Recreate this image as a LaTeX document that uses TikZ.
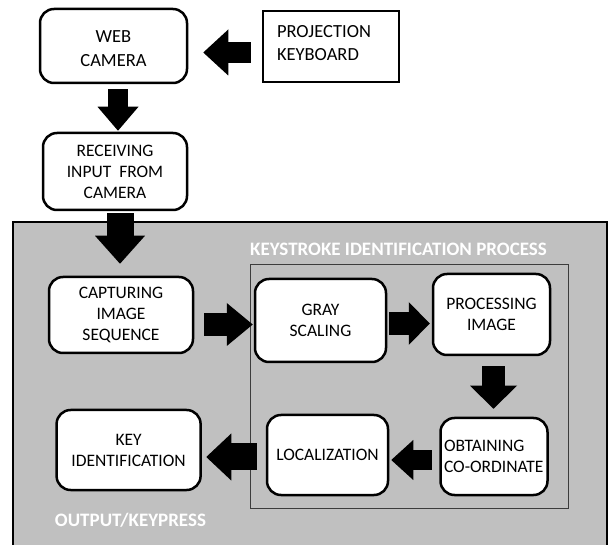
\documentclass[tikz,border=0pt]{standalone}
\usepackage{fontspec}
\setmainfont{Carlito}
\usetikzlibrary{arrows.meta}
\definecolor{panel}{RGB}{192,192,192}
\definecolor{framegray}{RGB}{60,60,60}
\begin{document}
\begin{tikzpicture}[x=1pt,y=-1pt,
  stepbox/.style={draw=black, line width=2.5pt, rounded corners=14pt, fill=white, align=center, inner sep=0pt, font=\fontsize{17.5}{21}\selectfont},
  topbox/.style={stepbox, font=\fontsize{18.5}{24}\selectfont},
  blk/.style n args={3}{line width=#1, -{Triangle[width=#2, length=#3, line width=0pt]}, draw=black},
  hdr/.style={text=white, font=\bfseries\fontsize{19}{22}\selectfont, inner sep=0pt}
]
\useasboundingbox (0,0) rectangle (611,545);
\node[draw=black, line width=2pt, fill=panel, minimum width=594pt, minimum height=326pt, inner sep=0pt] (outer) at (310,385) {};
\node[draw=framegray, line width=0.8pt, minimum width=318pt, minimum height=244pt, inner sep=0pt] (frame) at (409,386) {};

\node[topbox, minimum width=147pt, minimum height=74pt, text height=44pt, text depth=2pt] (cam) at (113.5,46) {WEB\\CAMERA};
\node[draw=black, line width=2.5pt, fill=white, minimum width=136pt, minimum height=71pt, align=left, text width=108pt, text depth=30pt, inner sep=0pt, font=\fontsize{18.5}{23}\selectfont] (kb) at (331,46.5) {PROJECTION\\KEYBOARD};
\node[stepbox, minimum width=144pt, minimum height=77pt] (recv) at (115,171.5) {RECEIVING\\INPUT~~FROM\\CAMERA};
\node[stepbox, minimum width=144pt, minimum height=76pt] (cap) at (121,315) {CAPTURING\\IMAGE\\SEQUENCE};
\node[stepbox, minimum width=131pt, minimum height=83pt] (gray) at (320.5,320.5) {GRAY\\SCALING};
\node[stepbox, minimum width=117pt, minimum height=81pt] (proc) at (491.5,314.5) {PROCESSING\\IMAGE};
\node[stepbox, minimum width=107pt, minimum height=77pt, align=left, text width=100pt] (obt) at (494,456.5) {OBTAINING\\CO-ORDINATE};
\node[stepbox, minimum width=121pt, minimum height=80pt] (loc) at (327.5,455) {LOCALIZATION};
\node[stepbox, minimum width=144pt, minimum height=80pt] (key) at (128.6,450) {KEY\\IDENTIFICATION};

\node[hdr] (ttl) at (398.5,249) {KEYSTROKE IDENTIFICATION PROCESS};
\node[hdr] (outlbl) at (130.5,520) {OUTPUT/KEYPRESS};

\draw[blk={21pt}{46pt}{25pt}, shorten <=11pt, shorten >=15pt] ([yshift=-6pt]kb.west) -- ([yshift=-6pt]kb.west -| cam.east);
\draw[blk={20pt}{41pt}{24pt}, shorten <=5pt, shorten >=1pt] ([xshift=4.5pt]cam.south) -- ([xshift=4.5pt]cam.south |- recv.north);
\draw[blk={27pt}{50pt}{28pt}, shorten <=2pt, shorten >=12pt] ([xshift=5pt]recv.south) -- ([xshift=5pt]recv.south |- cap.north);
\draw[blk={23pt}{43pt}{26pt}, shorten <=10pt, shorten >=1pt] ([yshift=-9.5pt]cap.east) -- ([yshift=-9.5pt]cap.east -| gray.west);
\draw[blk={23pt}{43pt}{21pt}, shorten <=2pt, shorten >=2pt] ([yshift=-3pt]gray.east) -- ([yshift=-3pt]gray.east -| proc.west);
\draw[blk={23pt}{47pt}{23pt}, shorten <=10pt, shorten >=8pt] ([xshift=2pt]proc.south) -- ([xshift=2pt]proc.south |- obt.north);
\draw[blk={20pt}{40pt}{22pt}, shorten <=7.5pt, shorten >=2pt] ([yshift=-3.5pt]obt.west) -- ([yshift=-3.5pt]obt.west -| loc.east);
\draw[blk={27pt}{47pt}{25pt}, shorten <=9pt, shorten >=4.4pt] ([yshift=-2pt]loc.west) -- ([yshift=-2pt]loc.west -| key.east);
\end{tikzpicture}
\end{document}
